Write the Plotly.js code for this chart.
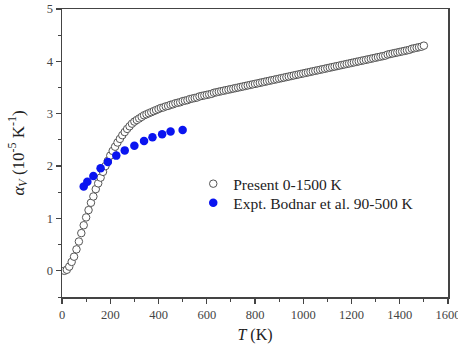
<!DOCTYPE html>
<html>
<head>
<meta charset="utf-8">
<script src="https://cdn.plot.ly/plotly-3.0.1.min.js"></script>
<style>html,body{margin:0;padding:0;background:#fff;}#chart{width:458px;height:347px;}</style>
</head>
<body>
<div id="chart"></div>
<script>
const presentT = [10,20,30,40,50,60,70,80,90,100,110,120,130,140,150,160,170,180,190,200,
210,220,230,240,250,260,270,280,290,300,310,320,330,340,350,360,370,380,390,400,
410,420,430,440,450,460,470,480,490,500,510,520,530,540,550,560,570,580,590,600,
610,620,630,640,650,660,670,680,690,700,710,720,730,740,750,760,770,780,790,800,
810,820,830,840,850,860,870,880,890,900,910,920,930,940,950,960,970,980,990,1000,
1010,1020,1030,1040,1050,1060,1070,1080,1090,1100,1110,1120,1130,1140,1150,1160,1170,1180,1190,1200,
1210,1220,1230,1240,1250,1260,1270,1280,1290,1300,1310,1320,1330,1340,1350,1360,1370,1380,1390,1400,
1410,1420,1430,1440,1450,1460,1470,1480,1490,1500];
const presentAlpha = [0.00,0.02,0.08,0.17,0.27,0.41,0.56,0.72,0.87,1.02,1.16,1.30,1.42,1.56,1.67,1.78,1.89,2.00,2.10,2.20,
2.29,2.37,2.45,2.52,2.59,2.65,2.71,2.76,2.81,2.85,2.88,2.91,2.94,2.97,2.99,3.01,3.03,3.05,3.07,3.09,
3.11,3.12,3.14,3.15,3.17,3.18,3.20,3.21,3.22,3.24,3.25,3.26,3.28,3.29,3.30,3.31,3.33,3.34,3.35,3.36,
3.37,3.38,3.40,3.41,3.42,3.43,3.44,3.45,3.46,3.47,3.48,3.49,3.50,3.51,3.52,3.53,3.54,3.55,3.56,3.57,
3.58,3.59,3.60,3.61,3.62,3.63,3.64,3.65,3.66,3.67,3.68,3.69,3.70,3.71,3.72,3.73,3.74,3.75,3.76,3.77,
3.78,3.79,3.80,3.81,3.82,3.83,3.84,3.85,3.86,3.87,3.88,3.89,3.90,3.91,3.92,3.93,3.94,3.95,3.96,3.97,
3.98,3.99,4.00,4.01,4.02,4.03,4.04,4.05,4.06,4.07,4.08,4.09,4.10,4.11,4.13,4.14,4.15,4.16,4.17,4.18,
4.19,4.20,4.21,4.22,4.24,4.25,4.26,4.27,4.28,4.30];
const exptT = [90,105,130,160,190,225,260,300,340,375,415,450,500];
const exptAlpha = [1.61,1.70,1.81,1.96,2.08,2.20,2.30,2.39,2.48,2.55,2.61,2.66,2.69];
const seriesNames = ['Present 0-1500 K', 'Expt. Bodnar et al. 90-500 K'];

const serif = 'Liberation Serif, Times New Roman, serif';
const axisColor = '#444';

const traces = [
  {x: presentT, y: presentAlpha, name: seriesNames[0], type: 'scatter', mode: 'markers', legend: 'legend',
   marker: {symbol: 'circle', size: 7.5, color: '#ffffff', line: {color: '#555555', width: 1}}},
  {x: exptT, y: exptAlpha, name: seriesNames[1], type: 'scatter', mode: 'markers', legend: 'legend2',
   marker: {symbol: 'circle', size: 8.5, color: '#0a14f0', line: {width: 0}}}
];

const legendBase = {xanchor: 'left', yanchor: 'middle', bgcolor: 'rgba(0,0,0,0)',
  font: {family: serif, size: 15.5, color: '#222'}, itemwidth: 30, tracegroupgap: 0};

const layout = {
  width: 458, height: 347,
  margin: {l: 62, r: 10, t: 9, b: 50},
  paper_bgcolor: '#ffffff', plot_bgcolor: '#ffffff',
  font: {family: serif, color: '#333', size: 12},
  showlegend: true,
  legend: Object.assign({}, legendBase, {x: 0.34, y: 0.392}),
  legend2: Object.assign({}, legendBase, {x: 0.34, y: 0.326}),
  xaxis: {range: [0, 1600], dtick: 200, tick0: 0, showgrid: false, zeroline: false,
          showline: true, mirror: true, linecolor: axisColor, linewidth: 1.5,
          ticks: 'outside', ticklen: 5, tickwidth: 1.2, tickcolor: axisColor,
          ticklabeloverflow: 'allow',
          minor: {dtick: 100, ticks: 'outside', ticklen: 3, tickcolor: axisColor, tickwidth: 1},
          tickfont: {family: serif, size: 12.5, color: '#444'},
          title: {text: '<i>T</i> (K)', font: {family: serif, size: 16, color: '#222'}, standoff: 8}},
  yaxis: {range: [-0.5, 5], dtick: 1, tick0: 0, showgrid: false, zeroline: false,
          showline: true, mirror: true, linecolor: axisColor, linewidth: 1.5,
          ticks: 'outside', ticklen: 5, tickwidth: 1.2, tickcolor: axisColor,
          minor: {dtick: 0.5, ticks: 'outside', ticklen: 3, tickcolor: axisColor, tickwidth: 1},
          tickfont: {family: serif, size: 12.5, color: '#444'},
          title: {text: '<i>α</i><sub><i>V</i></sub> (10<sup>-5</sup> K<sup>-1</sup>)', font: {family: serif, size: 17, color: '#222'}, standoff: 18}}
};

Plotly.newPlot('chart', traces, layout, {displayModeBar: false, staticPlot: true});
</script>
</body>
</html>
